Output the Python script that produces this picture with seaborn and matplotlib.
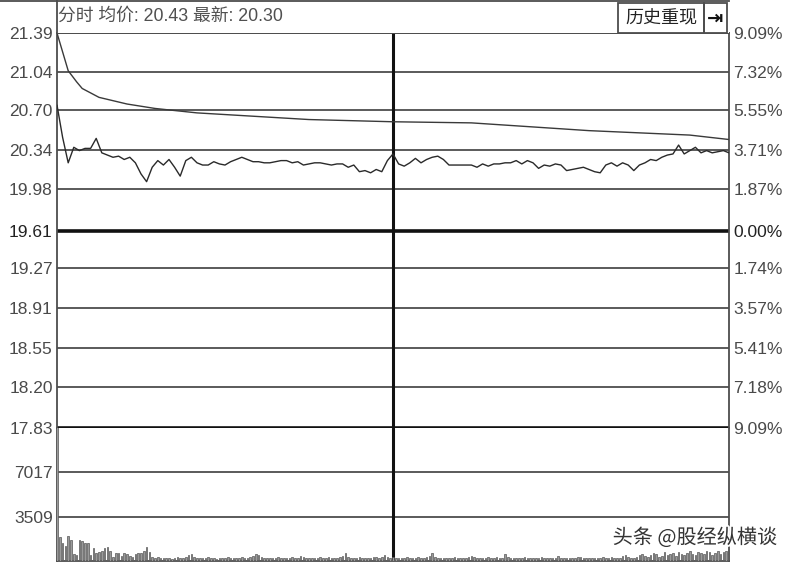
import matplotlib
matplotlib.use("Agg")
import matplotlib.pyplot as plt
import matplotlib.patheffects as pe
from matplotlib.patches import Rectangle
import numpy as np
import pandas as pd
import seaborn as sns

# ---- data -------------------------------------------------------------------
price_ticks = [17.83, 18.20, 18.55, 18.91, 19.27, 19.61, 19.98, 20.34, 20.70, 21.04, 21.39]
price_labels = ["17.83", "18.20", "18.55", "18.91", "19.27", "19.61",
                "19.98", "20.34", "20.70", "21.04", "21.39"]
pct_labels = ["9.09%", "7.18%", "5.41%", "3.57%", "1.74%", "0.00%",
              "1.87%", "3.71%", "5.55%", "7.32%", "9.09%"]
vol_ticks = [3509, 7017]
vol_labels = ["3509", "7017"]
vol_max = 10527

# price sampled every 2 minutes (0..240)
price_min = list(range(0, 241, 2))
price = [20.74, 20.45, 20.22, 20.36, 20.33, 20.35, 20.35, 20.44, 20.31, 20.29,
         20.27, 20.28, 20.25, 20.27, 20.22, 20.12, 20.05, 20.18, 20.24, 20.20,
         20.25, 20.18, 20.10, 20.24, 20.27, 20.22, 20.20, 20.20, 20.23, 20.21,
         20.20, 20.23, 20.25, 20.27, 20.25, 20.23, 20.23, 20.22, 20.22, 20.23,
         20.24, 20.24, 20.22, 20.23, 20.20, 20.21, 20.22, 20.22, 20.21, 20.20,
         20.21, 20.21, 20.18, 20.20, 20.14, 20.15, 20.13, 20.16, 20.14, 20.24,
         20.30, 20.21, 20.19, 20.22, 20.26, 20.22, 20.25, 20.27, 20.28, 20.25,
         20.20, 20.20, 20.20, 20.20, 20.20, 20.18, 20.21, 20.19, 20.21, 20.21,
         20.22, 20.22, 20.24, 20.21, 20.24, 20.22, 20.17, 20.20, 20.19, 20.21,
         20.20, 20.15, 20.16, 20.17, 20.18, 20.16, 20.14, 20.13, 20.20, 20.22,
         20.19, 20.22, 20.20, 20.15, 20.20, 20.22, 20.25, 20.24, 20.27, 20.29,
         20.30, 20.38, 20.30, 20.33, 20.36, 20.31, 20.33, 20.31, 20.32, 20.33,
         20.31]

avg_min = [0, 4, 7, 9, 15, 25, 35, 50, 70, 90, 120, 148, 166, 190, 208, 226, 240]
avg_price = [21.39, 21.05, 20.95, 20.89, 20.81, 20.75, 20.71, 20.67, 20.64, 20.61,
             20.59, 20.58, 20.55, 20.51, 20.49, 20.47, 20.43]

vol_am = [10600, 1900, 1400, 1200, 2000, 1700, 560, 480, 1700, 1600,
          1450, 1400, 480, 1040, 640, 720, 800, 1040, 1100, 800,
          320, 640, 640, 400, 640, 560, 400, 320, 560, 600,
          640, 800, 1100, 720, 300, 250, 280, 220, 200, 260,
          240, 180, 220, 300, 260, 200, 280, 480, 560, 320,
          240, 200, 260, 220, 300, 240, 200, 180, 260, 220,
          240, 280, 200, 220, 260, 240, 300, 220, 260, 320,
          400, 560, 480, 300, 240, 220, 260, 200, 240, 280,
          220, 200, 260, 240, 300, 260, 220, 400, 280, 240,
          200, 260, 220, 240, 280, 200, 260, 300, 240, 220,
          260, 320, 400, 640, 300, 240, 260, 220, 280, 240,
          200, 260, 220, 300, 280, 240, 320, 480, 300, 260,
          280]
vol_pm = [240, 200, 260, 220, 300, 240, 200, 260, 280, 220,
          240, 320, 400, 640, 300, 260, 220, 240, 200, 260,
          240, 280, 220, 200, 260, 240, 300, 400, 280, 220,
          260, 240, 200, 280, 240, 220, 300, 260, 240, 560,
          320, 240, 220, 260, 200, 240, 280, 220, 260, 240,
          200, 260, 300, 240, 220, 260, 240, 200, 400, 260,
          240, 220, 260, 200, 240, 280, 300, 260, 220, 240,
          200, 260, 240, 220, 280, 240, 260, 300, 220, 240,
          260, 400, 480, 300, 260, 220, 320, 480, 560, 400,
          300, 480, 640, 560, 320, 400, 720, 480, 560, 640,
          400, 720, 560, 480, 640, 800, 560, 480, 720, 640,
          560, 800, 720, 480, 640, 800, 560, 720, 800, 560]

title_text = "分时 均价: 20.43 最新: 20.30"
button_text = "历史重现"
watermark = "头条 @股经纵横谈"

# ---- style -----------------------------------------------------------------
sns.set_theme(style="white")
plt.rcParams["font.family"] = ["Liberation Sans", "Noto Sans CJK SC", "DejaVu Sans"]
LABEL = "#4a4a4a"
GRID = "#4d4d4d"

fig = plt.figure(figsize=(7.92, 5.64), dpi=100)
W, H = 792, 564


def box(x0, y0, x1, y1):
    return [x0 / W, 1 - y1 / H, (x1 - x0) / W, (y1 - y0) / H]


ax = fig.add_axes(box(57, 33, 729, 428))
axv = fig.add_axes(box(57, 428, 729, 561))
axh = fig.add_axes(box(57, 1, 729, 33))

# ---- price panel -----------------------------------------------------------
for t in price_ticks:
    lw = 2.6 if t in (19.61, 17.83) else 1.3
    col = "#111111" if t in (19.61, 17.83) else GRID
    ax.axhline(t, color=col, lw=lw, zorder=1)

price_df = pd.DataFrame({"minute": price_min, "price": price})
avg_df = pd.DataFrame({"minute": avg_min, "price": avg_price})
sns.lineplot(data=avg_df, x="minute", y="price", ax=ax, color="#3a3a3a", lw=1.0, zorder=3)
sns.lineplot(data=price_df, x="minute", y="price", ax=ax, color="#2a2a2a", lw=1.0, zorder=3)
ax.axvline(120, color="#111111", lw=2.2, zorder=2)

ax.set_xlim(0, 240)
ax.set_ylim(17.83, 21.39)
ax.set_yticks(price_ticks)
ax.set_yticklabels(price_labels)
ax.set_xticks([])
ax.set_xlabel("")
ax.set_ylabel("")
ax.tick_params(axis="y", length=0, pad=3, labelsize=12.5, labelcolor=LABEL)
for lab in ax.get_yticklabels():
    if lab.get_text() == "19.61":
        lab.set_color("#222222")
for s in ["left", "right", "top"]:
    ax.spines[s].set_color(GRID)
    ax.spines[s].set_linewidth(1.3)
ax.spines["bottom"].set_visible(False)

axr = ax.twinx()
axr.set_ylim(17.83, 21.39)
axr.set_yticks(price_ticks)
axr.set_yticklabels(pct_labels)
axr.tick_params(axis="y", length=0, pad=3, labelsize=12.5, labelcolor=LABEL)
for lab in axr.get_yticklabels():
    if lab.get_text() == "0.00%":
        lab.set_color("#222222")
for s in axr.spines.values():
    s.set_visible(False)
axr.grid(False)

# ---- volume panel ----------------------------------------------------------
vol_df = pd.DataFrame({"minute": list(range(241)), "volume": vol_am + vol_pm})
for t in vol_ticks:
    axv.axhline(t, color=GRID, lw=1.3, zorder=1)
sns.barplot(data=vol_df, x="minute", y="volume", ax=axv, native_scale=True,
            width=0.55, color="#9a9a9a", edgecolor="#555555", linewidth=0.5,
            errorbar=None, zorder=3)
axv.axvline(120, color="#111111", lw=2.2, zorder=2)
axv.set_xlim(0, 240)
axv.set_ylim(0, vol_max)
axv.set_yticks(vol_ticks)
axv.set_yticklabels(vol_labels)
axv.set_xticks([])
axv.set_xlabel("")
axv.set_ylabel("")
axv.tick_params(axis="y", length=0, pad=3, labelsize=12.5, labelcolor=LABEL)
axv.spines["top"].set_visible(False)
for s in ["left", "right", "bottom"]:
    axv.spines[s].set_color(GRID)
    axv.spines[s].set_linewidth(1.3)

fig.text(777 / W, 1 - 538 / H, watermark, ha="right", va="center",
         fontsize=14.5, color="#333333", family=["Noto Sans CJK SC", "DejaVu Sans"],
         path_effects=[pe.withStroke(linewidth=2.5, foreground="white")], zorder=10)

# ---- header strip ----------------------------------------------------------
axh.set_xlim(0, 672)
axh.set_ylim(0, 32)
axh.set_xticks([])
axh.set_yticks([])
axh.spines["right"].set_visible(False)
axh.spines["bottom"].set_visible(False)
for s in ["left", "top"]:
    axh.spines[s].set_color(GRID)
    axh.spines[s].set_linewidth(1.3)
axh.text(1, 17, title_text, ha="left", va="center", fontsize=12.8, color="#505050",
         family=["Liberation Sans", "Noto Sans CJK SC"])
axh.add_patch(Rectangle((561, 0), 86, 30, fill=False, ec=GRID, lw=1.3))
axh.add_patch(Rectangle((647, 0), 23, 30, fill=False, ec=GRID, lw=1.3))
axh.text(604, 15, button_text, ha="center", va="center", fontsize=13, color="#222222",
         family=["Noto Sans CJK SC", "DejaVu Sans"])
axh.text(658.5, 15, "\u21e5", ha="center", va="center", fontsize=14, color="#111111",
         fontweight="bold", family=["DejaVu Sans"])
fig.add_artist(plt.Line2D([0, 57 / W], [1 - 1 / H, 1 - 1 / H], color=GRID, lw=1.3))

fig.savefig("out.png", dpi=100)
